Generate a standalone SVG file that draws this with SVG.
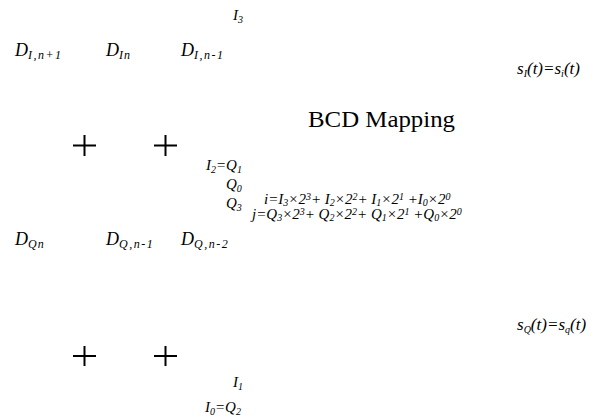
<svg xmlns="http://www.w3.org/2000/svg" width="594" height="417" viewBox="0 0 594 417">
<style>
.m{font-family:"Liberation Serif","Times New Roman",serif;font-style:italic;fill:#000}
.big{font-size:18px}
.mid{font-size:15px}
.sg{font-size:17px}
.sub{font-size:12px}
.ssub{font-size:10px}
.plus{stroke:#000;stroke-width:2;fill:none}
</style>
<rect width="594" height="417" fill="#fff"/>
<g id="connectors"/>
<g id="title"><text x="308" y="127" style="font-family:'Times New Roman','Liberation Serif',serif;font-size:24px" fill="#000" textLength="147" lengthAdjust="spacingAndGlyphs">BCD Mapping</text></g>
<g id="DI"><text class="m big" x="15" y="56">D<tspan class="sub" dy="3" letter-spacing="1.5">I,n+1</tspan></text>
<text class="m big" x="106" y="56">D<tspan class="sub" dy="3" letter-spacing="1">In</tspan></text>
<text class="m big" x="181" y="56">D<tspan class="sub" dy="3" letter-spacing="1.5">I,n-1</tspan></text></g>
<g id="DQ"><text class="m big" x="15" y="245">D<tspan class="sub" dy="3" letter-spacing="1">Qn</tspan></text>
<text class="m big" x="106" y="245">D<tspan class="sub" dy="3" letter-spacing="1.5">Q,n-1</tspan></text>
<text class="m big" x="181" y="245">D<tspan class="sub" dy="3" letter-spacing="1.5">Q,n-2</tspan></text></g>
<g id="adders">
<path class="plus" d="M73 145.5H96M84.5 135V156M154 145.5H177M165.5 135V156M73 356H96M84.5 346V366M154 356H177M165.5 346V366"/>
</g>
<g id="bits">
<text class="m mid" x="233" y="20">I<tspan class="ssub" dy="3">3</tspan></text>
<text class="m mid" x="206" y="170">I<tspan class="ssub" dy="3">2</tspan><tspan dy="-3">=Q</tspan><tspan class="ssub" dy="3">1</tspan></text>
<text class="m mid" x="226" y="189">Q<tspan class="ssub" dy="3">0</tspan></text>
<text class="m mid" x="226" y="208">Q<tspan class="ssub" dy="3">3</tspan></text>
<text class="m mid" x="233" y="387">I<tspan class="ssub" dy="3">1</tspan></text>
<text class="m mid" x="205" y="412">I<tspan class="ssub" dy="3">0</tspan><tspan dy="-3">=Q</tspan><tspan class="ssub" dy="3">2</tspan></text>
</g>
<g id="signals">
<text class="m sg" x="517" y="74">s<tspan class="ssub" dy="3">I</tspan><tspan dy="-3">(t)=s</tspan><tspan class="ssub" dy="3">i</tspan><tspan dy="-3">(t)</tspan></text>
<text class="m sg" x="517" y="330">s<tspan class="ssub" dy="3">Q</tspan><tspan dy="-3">(t)=s</tspan><tspan class="ssub" dy="3">q</tspan><tspan dy="-3">(t)</tspan></text>
</g>
<g id="formula">
<text class="m mid" x="264" y="204">i=I<tspan class="ssub" dy="2">3</tspan><tspan dy="-2">×2</tspan><tspan class="ssub" dy="-4">3</tspan><tspan dy="4">+ I</tspan><tspan class="ssub" dy="2">2</tspan><tspan dy="-2">×2</tspan><tspan class="ssub" dy="-4">2</tspan><tspan dy="4">+ I</tspan><tspan class="ssub" dy="2">1</tspan><tspan dy="-2">×2</tspan><tspan class="ssub" dy="-4">1</tspan><tspan dy="4"> +I</tspan><tspan class="ssub" dy="2">0</tspan><tspan dy="-2">×2</tspan><tspan class="ssub" dy="-4">0</tspan></text>
<text class="m mid" x="252" y="219">j=Q<tspan class="ssub" dy="2">3</tspan><tspan dy="-2">×2</tspan><tspan class="ssub" dy="-4">3</tspan><tspan dy="4">+ Q</tspan><tspan class="ssub" dy="2">2</tspan><tspan dy="-2">×2</tspan><tspan class="ssub" dy="-4">2</tspan><tspan dy="4">+ Q</tspan><tspan class="ssub" dy="2">1</tspan><tspan dy="-2">×2</tspan><tspan class="ssub" dy="-4">1</tspan><tspan dy="4"> +Q</tspan><tspan class="ssub" dy="2">0</tspan><tspan dy="-2">×2</tspan><tspan class="ssub" dy="-4">0</tspan></text>
</g>
</svg>
